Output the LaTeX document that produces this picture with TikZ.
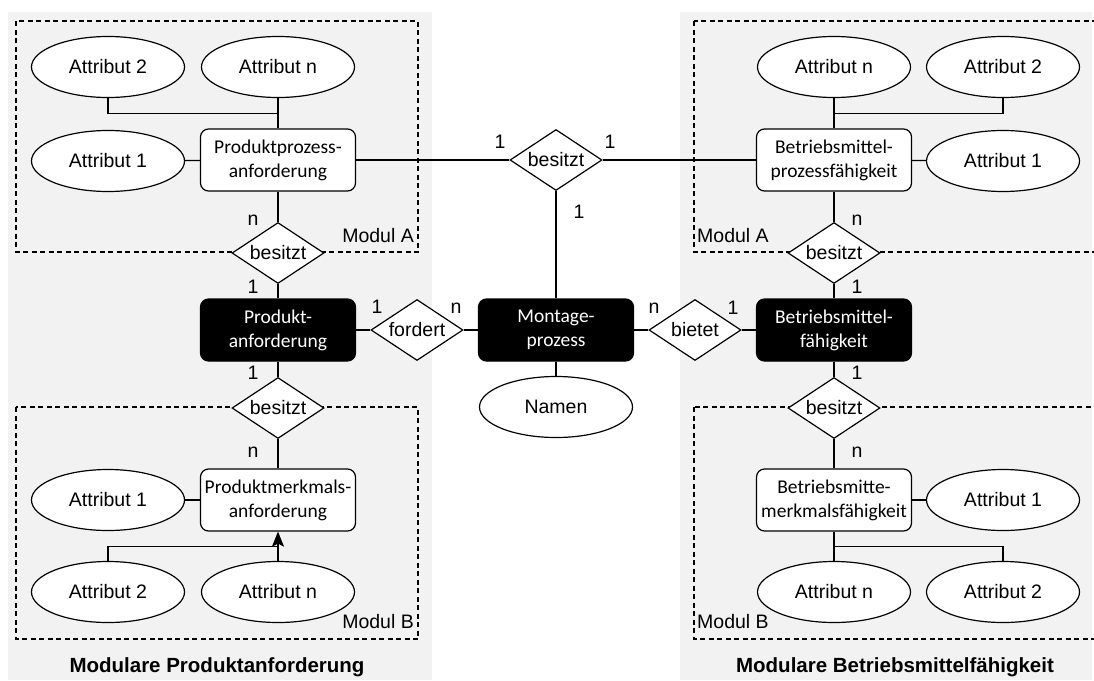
\documentclass[tikz,border=0pt]{standalone}
\usepackage{fontspec}
\setmainfont{Liberation Sans}
\newfontfamily\boxfont{Carlito}
\usetikzlibrary{shapes.geometric,calc,arrows.meta}

\definecolor{panelgrey}{HTML}{F2F2F2}

\tikzset{
  txt/.style={font=\fontsize{19.5}{23}\selectfont},
  attr/.style={ellipse, draw, fill=white, line width=1.2pt,
    minimum width=153pt, minimum height=61pt, inner sep=0pt, txt},
  entity/.style={rectangle, rounded corners=8pt, draw, fill=white,
    line width=1.2pt, minimum width=155pt, minimum height=62pt,
    inner sep=0pt, align=center, font=\boxfont\fontsize{19.5}{24}\selectfont},
  keyentity/.style={entity, fill=black, text=white},
  relation/.style={diamond, draw, fill=white, line width=1.2pt,
    minimum width=92pt, minimum height=61pt, inner sep=0pt,
    label={[txt, inner sep=0pt]center:#1}},
  card/.style={txt, inner sep=0pt},
  modlabel/.style={txt, inner sep=0pt},
  title/.style={font=\bfseries\fontsize{20.5}{24}\selectfont, inner sep=0pt},
  modbox/.style={line width=1.2pt, dash pattern=on 5pt off 3.5pt},
  link/.style={line width=1.2pt},
  tip/.style={-{Stealth[length=15pt,width=12pt,inset=3pt]}},
}

\begin{document}
\begin{tikzpicture}[x=1pt,y=-1pt]
  \useasboundingbox (0,0) rectangle (1094,680);
  \clip (0,0) rectangle (1094,680);

  % grey background panels
  \fill[panelgrey] (8,12) rectangle (432,680);
  \fill[panelgrey] (680,12) rectangle (1092,680);

  % dashed module frames
  \draw[modbox] (16,21) rectangle (418,252);
  \draw[modbox] (16,407) rectangle (418,639);
  \draw[modbox] (694,21) rectangle (1098,252);
  \draw[modbox] (694,407) rectangle (1098,639);

  % central chain
  \node[keyentity] (pa) at (278,330) {Produkt-\\anforderung};
  \node[keyentity] (mp) at (556,330) {Montage-\\prozess};
  \node[keyentity] (bf) at (834,330) {Betriebsmittel-\\fähigkeit};
  \node[relation=fordert] (ford) at (417,330) {};
  \node[relation=bietet] (biet) at (695,330) {};
  \node[relation=besitzt] (bt) at (556,160) {};
  \node[attr] (name) at (556,407) {Namen};

  % left, module A
  \node[entity] (pp) at (278,160) {Produktprozess-\\anforderung};
  \node[attr] (la2) at (108,67) {Attribut 2};
  \node[attr] (lan) at (278,67) {Attribut n};
  \node[attr] (la1) at (108,161) {Attribut 1};
  \node[relation=besitzt] (lbA) at (278,253) {};

  % left, module B
  \node[relation=besitzt] (lbB) at (278,408) {};
  \node[entity] (pm) at (278,500) {Produktmerkmals-\\anforderung};
  \node[attr] (lb1) at (108,500) {Attribut 1};
  \node[attr] (lb2) at (108,592) {Attribut 2};
  \node[attr] (lbn) at (278,592) {Attribut n};

  % right, module A
  \node[entity] (bp) at (834,160) {Betriebsmittel-\\prozessfähigkeit};
  \node[attr] (ran) at (834,67) {Attribut n};
  \node[attr] (ra2) at (1003,67) {Attribut 2};
  \node[attr] (ra1) at (1003,161) {Attribut 1};
  \node[relation=besitzt] (rbA) at (834,253) {};

  % right, module B
  \node[relation=besitzt] (rbB) at (834,408) {};
  \node[entity] (bm) at (834,500) {Betriebsmitte-\\merkmalsfähigkeit};
  \node[attr] (rb1) at (1003,500) {Attribut 1};
  \node[attr] (rbn) at (834,592) {Attribut n};
  \node[attr] (rb2) at (1003,592) {Attribut 2};

  % connectors
  \draw[link] (pp) -- (bt) -- (bp);
  \draw[link] (bt) -- (mp);
  \draw[link] (pa) -- (ford) -- (mp) -- (biet) -- (bf);
  \draw[link] (mp) -- (name);

  \draw[link] (pp) -- (lbA) -- (pa) -- (lbB) -- (pm);
  \draw[link] (la1) -- (pp);
  \draw[link] (lan) -- (pp);
  \draw[link] (la2.south) |- ($(lan.south)!.5!(pp.north)$);
  \draw[link] (lb1) -- (pm);
  \draw[link, tip] (lbn.north) -- (pm.south);
  \draw[link] (lb2.north) |- ($(lbn.north)!.5!(pm.south)$);

  \draw[link] (bp) -- (rbA) -- (bf) -- (rbB) -- (bm);
  \draw[link] (ra1) -- (bp);
  \draw[link] (ran) -- (bp);
  \draw[link] (ra2.south) |- ($(ran.south)!.5!(bp.north)$);
  \draw[link] (rb1) -- (bm);
  \draw[link] (bm) -- (rbn);
  \draw[link] (rb2.north) |- ($(rbn.north)!.5!(bm.south)$);

  % cardinalities
  \node[card] (c1) at (500,142) {1};
  \node[card] (c2) at (610,142) {1};
  \node[card] (c3) at (579,212) {1};
  \node[card] (c4) at (253,220) {n};
  \node[card] (c5) at (253,287) {1};
  \node[card] (c6) at (253,373) {1};
  \node[card] (c7) at (253,452) {n};
  \node[card] (c8) at (377,307) {1};
  \node[card] (c9) at (456,308) {n};
  \node[card] (c10) at (654,308) {n};
  \node[card] (c11) at (733,308) {1};
  \node[card] (c12) at (857,220) {n};
  \node[card] (c13) at (857,287) {1};
  \node[card] (c14) at (857,373) {1};
  \node[card] (c15) at (857,452) {n};

  % module labels
  \node[modlabel, anchor=east] (mlA) at (414,236) {Modul A};
  \node[modlabel, anchor=east] (mlB) at (414,622) {Modul B};
  \node[modlabel, anchor=west] (mrA) at (697,236) {Modul A};
  \node[modlabel, anchor=west] (mrB) at (697,622) {Modul B};

  % panel titles
  \node[title] (tl) at (217,667) {Modulare Produktanforderung};
  \node[title] (tr) at (895,667) {Modulare Betriebsmittelfähigkeit};
\end{tikzpicture}
\end{document}
